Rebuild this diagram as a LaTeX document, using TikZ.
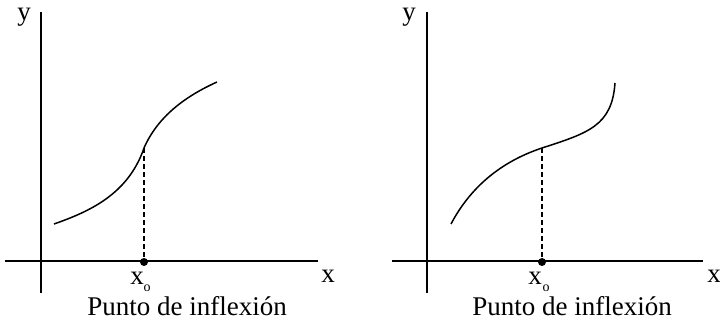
\documentclass[tikz,border=0pt]{standalone}
\usepackage{fontspec}
\setmainfont{Liberation Serif}
\begin{document}
\begin{tikzpicture}[x=1pt,y=-1pt,
  axis/.style={line width=1.5pt},
  curve/.style={line width=1.5pt},
  guide/.style={line width=1.3pt,dash pattern=on 5pt off 3pt},
  lbl/.style={font=\fontsize{27}{29}\selectfont,inner sep=0pt},
  sub/.style={font=\fontsize{14}{15}\selectfont,inner sep=0pt},
  dotnode/.style={circle,fill=black,inner sep=0pt,minimum size=8pt}]
\useasboundingbox (0,0) rectangle (720,324);
% left panel
\coordinate (ly0) at (41,12); \coordinate (ly1) at (41,293);
\coordinate (lx0) at (5,261); \coordinate (lx1) at (318,261);
\draw[axis] (ly0) -- (ly1);
\draw[axis] (lx0) -- (lx1);
\node[lbl] (ly) at (24,17) {y};
\node[lbl] (lx) at (328,276) {x};
\coordinate (la) at (54,224); \coordinate (li) at (144,148); \coordinate (lb) at (217,82);
\draw[curve] (la) .. controls (88,212) and (128,195) .. (li) .. controls (158,116) and (186,96) .. (lb);
\node[dotnode] (ld) at (144,262) {};
\draw[guide] (li) -- (ld);
\node[lbl] (lxo) at (137,278) {x};
\node[sub] (lo) at (147,288) {o};
\node[lbl] (lt) at (187,306) {Punto de inflexión};
% right panel
\coordinate (ry0) at (427,12); \coordinate (ry1) at (427,293);
\coordinate (rx0) at (392,261); \coordinate (rx1) at (703,261);
\draw[axis] (ry0) -- (ry1);
\draw[axis] (rx0) -- (rx1);
\node[lbl] (ry) at (409,17) {y};
\node[lbl] (rx) at (714,276) {x};
\coordinate (ra) at (451,224); \coordinate (ri) at (542,148); \coordinate (rb) at (615,83);
\draw[curve] (ra) .. controls (470,188) and (500,162) .. (ri) .. controls (588,133) and (612,126) .. (rb);
\node[dotnode] (rd) at (542,262) {};
\draw[guide] (ri) -- (rd);
\node[lbl] (rxo) at (535,278) {x};
\node[sub] (ro) at (546,288) {o};
\node[lbl] (rt) at (572,306) {Punto de inflexión};
\end{tikzpicture}
\end{document}
